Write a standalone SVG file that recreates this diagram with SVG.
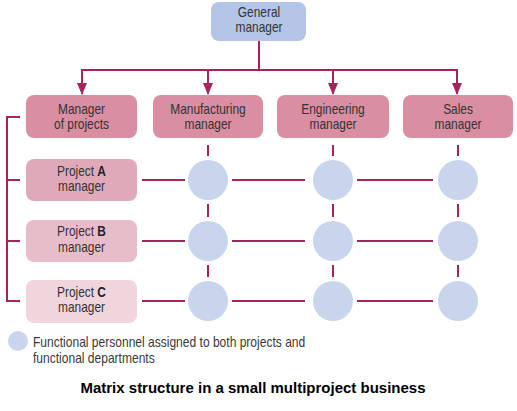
<svg xmlns="http://www.w3.org/2000/svg" width="517" height="411" viewBox="0 0 517 411">
<style>
.t{font-family:"Liberation Sans",Arial,sans-serif;font-size:14px;fill:#333;text-anchor:middle}
.l{text-anchor:start;fill:#3a3a3a}
.b{font-weight:bold;fill:#222}
.ln{stroke:#a8235c;stroke-width:2;fill:none}
.top{fill:#d98ea2}
.c{fill:#c9d5ec}
</style>
<defs>
<marker id="ah" markerWidth="12" markerHeight="10" refX="11" refY="5" orient="auto" markerUnits="userSpaceOnUse">
<path d="M0,0 L12,5 L0,10 Z" fill="#a8235c"/>
</marker>
</defs>
<rect width="517" height="411" fill="#fff"/>
<g id="connectors">
<path class="ln" d="M259,40 V70 M82,70 H457"/>
<path class="ln" d="M82,69 V94" marker-end="url(#ah)"/>
<path class="ln" d="M208,69 V94" marker-end="url(#ah)"/>
<path class="ln" d="M333,69 V94" marker-end="url(#ah)"/>
<path class="ln" d="M457,69 V94" marker-end="url(#ah)"/>
<path class="ln" d="M7,116 V301 M6,117 H20 M6,180 H20 M6,241 H20 M6,301 H20"/>
<path class="ln" d="M142,180 H185 M232,180 H305 M357,180 H433 M142,241 H185 M232,241 H305 M357,241 H433 M142,301 H185 M232,301 H305 M357,301 H433"/>
<path class="ln" d="M208,145 V156 M333,145 V156 M458,145 V156 M208,204 V217 M333,204 V217 M458,204 V217 M208,265 V277 M333,265 V277 M458,265 V277"/>
</g>
<g id="general-manager">
<rect x="211" y="2" width="95" height="39" rx="8" fill="#b3c4e6"/>
<g transform="translate(259 0) scale(0.85 1)">
<text class="t" x="0" y="17">General</text>
<text class="t" x="0" y="32">manager</text>
</g>
</g>
<g id="manager-of-projects">
<rect class="top" x="26" y="95" width="111" height="43" rx="8"/>
<g transform="translate(81.5 0) scale(0.85 1)">
<text class="t" x="0" y="114">Manager</text>
<text class="t" x="0" y="129">of projects</text>
</g>
</g>
<g id="manufacturing-manager">
<rect class="top" x="153" y="95" width="110" height="43" rx="8"/>
<g transform="translate(208 0) scale(0.85 1)">
<text class="t" x="0" y="114">Manufacturing</text>
<text class="t" x="0" y="129">manager</text>
</g>
</g>
<g id="engineering-manager">
<rect class="top" x="277" y="95" width="112" height="43" rx="8"/>
<g transform="translate(333 0) scale(0.85 1)">
<text class="t" x="0" y="114">Engineering</text>
<text class="t" x="0" y="129">manager</text>
</g>
</g>
<g id="sales-manager">
<rect class="top" x="403" y="95" width="110" height="43" rx="8"/>
<g transform="translate(458 0) scale(0.85 1)">
<text class="t" x="0" y="114">Sales</text>
<text class="t" x="0" y="129">manager</text>
</g>
</g>
<g id="project-a">
<rect x="26" y="159" width="111" height="42" rx="8" fill="#e0a9b9"/>
<g transform="translate(81.5 0) scale(0.85 1)">
<text class="t" x="0" y="176">Project <tspan class="b">A</tspan></text>
<text class="t" x="0" y="191">manager</text>
</g>
</g>
<g id="project-b">
<rect x="26" y="220" width="111" height="42" rx="8" fill="#e8bdca"/>
<g transform="translate(81.5 0) scale(0.85 1)">
<text class="t" x="0" y="236">Project <tspan class="b">B</tspan></text>
<text class="t" x="0" y="252">manager</text>
</g>
</g>
<g id="project-c">
<rect x="26" y="280" width="111" height="43" rx="8" fill="#f1d5dd"/>
<g transform="translate(81.5 0) scale(0.85 1)">
<text class="t" x="0" y="297">Project <tspan class="b">C</tspan></text>
<text class="t" x="0" y="312">manager</text>
</g>
</g>
<g id="personnel">
<circle class="c" cx="208" cy="180" r="20"/>
<circle class="c" cx="333" cy="180" r="20"/>
<circle class="c" cx="458" cy="180" r="20"/>
<circle class="c" cx="208" cy="241" r="20"/>
<circle class="c" cx="333" cy="241" r="20"/>
<circle class="c" cx="458" cy="241" r="20"/>
<circle class="c" cx="208" cy="301" r="20"/>
<circle class="c" cx="333" cy="301" r="20"/>
<circle class="c" cx="458" cy="301" r="20"/>
</g>
<g id="legend">
<circle class="c" cx="18" cy="341" r="10"/>
<g transform="translate(33 0) scale(0.86 1)">
<text class="t l" x="0" y="347">Functional personnel assigned to both projects and</text>
<text class="t l" x="0" y="363">functional departments</text>
</g>
</g>
<text x="253" y="393" style="font-family:'Liberation Sans',Arial,sans-serif;font-size:15px;font-weight:bold;text-anchor:middle;fill:#000">Matrix structure in a small multiproject business</text>
</svg>
